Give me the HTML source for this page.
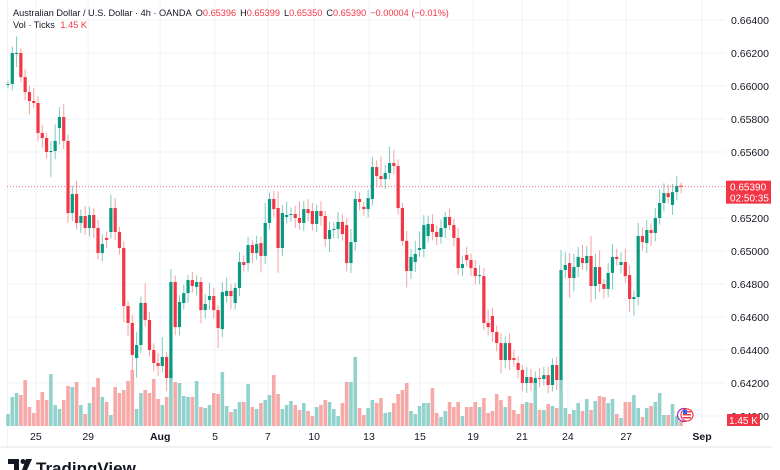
<!DOCTYPE html>
<html><head><meta charset="utf-8">
<style>
html,body{margin:0;padding:0;background:#fff;}
svg{display:block;font-family:"Liberation Sans",sans-serif;}
</style></head>
<body>
<svg id="chart" width="780" height="470" viewBox="0 0 780 470">
  <g id="grid"></g>
  <g id="vols"></g>
  <g id="candles"></g>
  <g id="axes"></g>
  <line x1="0" y1="447" x2="772" y2="447" stroke="#e0e3eb" stroke-width="1"/>
  <text x="13" y="16" font-size="9.2" fill="#131722">Australian Dollar / U.S. Dollar · 4h · OANDA <tspan dx="2">O</tspan><tspan fill="#f23645">0.65396</tspan><tspan dx="4">H</tspan><tspan fill="#f23645">0.65399</tspan><tspan dx="4">L</tspan><tspan fill="#f23645">0.65350</tspan><tspan dx="4">C</tspan><tspan fill="#f23645">0.65390</tspan><tspan dx="4" fill="#f23645">−0.00004 (−0.01%)</tspan></text>
  <text x="13" y="28" font-size="9.2" fill="#131722">Vol · Ticks <tspan dx="3" fill="#f23645">1.45 K</tspan></text>
  <g>
    <circle cx="684" cy="415" r="6.5" fill="#fff" stroke="#9c27b0" stroke-width="1.2"/>
    <circle cx="687" cy="415" r="6" fill="#fff" stroke="#f23645" stroke-width="1.2"/>
    <rect x="683" y="411" width="8" height="1.5" fill="#f23645"/>
    <rect x="683" y="414" width="8" height="1.5" fill="#f23645"/>
    <rect x="683" y="417" width="8" height="1.5" fill="#f23645"/>
    <rect x="683" y="410" width="4" height="4" fill="#2962ff"/>
  </g>
  <g>
    <path d="M8 459 h11 v11 h-5 v-6 h-6 z" fill="#131722"/>
    <circle cx="23" cy="461.5" r="2.5" fill="#131722"/>
    <path d="M26 459 h6 l-5 11 h-5 z" fill="#131722"/>
    <text x="36" y="474" font-size="17" font-weight="bold" fill="#131722">TradingView</text>
  </g>
</svg>
<script>
// ---- data ----
const opens = [0.66006,0.66012,0.66194,0.66200,0.66054,0.65963,0.65909,0.65897,0.65715,0.65685,
0.65600,0.65606,0.65745,0.65812,0.65667,0.65230,0.65345,0.65170,0.65212,0.65139,
0.65218,0.65139,0.64988,0.65079,0.65115,0.65261,0.65115,0.65018,0.64667,0.64564,
0.64351,0.64430,0.64685,0.64582,0.64400,0.64321,0.64303,0.64358,0.64230,0.64812,
0.64539,0.64685,0.64745,0.64824,0.64782,0.64812,0.64642,0.64703,0.64727,0.64642,
0.64527,0.64727,0.64758,0.64685,0.64776,0.64933,0.64927,0.65036,0.64988,0.65048,
0.64970,0.65170,0.65315,0.65261,0.65018,0.65206,0.65218,0.65224,0.65200,0.65170,
0.65254,0.65242,0.65164,0.65242,0.65212,0.65073,0.65127,0.65133,0.65176,0.65157,
0.64927,0.65054,0.65315,0.65267,0.65254,0.65315,0.65509,0.65454,0.65436,0.65473,
0.65533,0.65515,0.65261,0.65061,0.64879,0.64933,0.65006,0.65012,0.65091,0.65164,
0.65115,0.65085,0.65139,0.65206,0.65157,0.65079,0.64897,0.64976,0.64945,0.64897,
0.64848,0.64848,0.64564,0.64606,0.64509,0.64442,0.64339,0.64442,0.64351,0.64321,
0.64279,0.64200,0.64236,0.64200,0.64230,0.64224,0.64248,0.64188,0.64309,0.64218,
0.64885,0.64927,0.64836,0.64903,0.64958,0.64927,0.64970,0.64788,0.64903,0.64800,
0.64770,0.64867,0.64964,0.64915,0.64933,0.64854,0.64709,0.64721,0.65091,0.65048,
0.65127,0.65109,0.65200,0.65291,0.65351,0.65279,0.65357,0.65396];
const closes = [0.66012,0.66200,0.66200,0.66054,0.65963,0.65909,0.65897,0.65715,0.65685,0.65600,
0.65606,0.65667,0.65812,0.65667,0.65230,0.65345,0.65170,0.65212,0.65139,0.65218,
0.65139,0.64988,0.65042,0.65067,0.65261,0.65115,0.65018,0.64667,0.64564,0.64370,
0.64430,0.64685,0.64582,0.64400,0.64321,0.64303,0.64358,0.64230,0.64812,0.64539,
0.64691,0.64745,0.64824,0.64788,0.64812,0.64642,0.64679,0.64727,0.64642,0.64533,
0.64751,0.64758,0.64727,0.64776,0.64933,0.64915,0.65036,0.64988,0.65042,0.64970,
0.65170,0.65315,0.65254,0.65018,0.65230,0.65218,0.65224,0.65200,0.65170,0.65254,
0.65230,0.65164,0.65242,0.65212,0.65073,0.65127,0.65133,0.65176,0.65103,0.64927,
0.65054,0.65315,0.65297,0.65254,0.65321,0.65509,0.65454,0.65436,0.65473,0.65533,
0.65515,0.65261,0.65061,0.64879,0.64964,0.64982,0.65018,0.65157,0.65164,0.65115,
0.65085,0.65139,0.65206,0.65157,0.65079,0.64897,0.64921,0.64945,0.64897,0.64848,
0.64854,0.64564,0.64539,0.64509,0.64442,0.64339,0.64442,0.64339,0.64339,0.64279,
0.64200,0.64236,0.64200,0.64230,0.64224,0.64248,0.64188,0.64309,0.64218,0.64885,
0.64915,0.64836,0.64903,0.64964,0.64927,0.64970,0.64788,0.64903,0.64800,0.64770,
0.64867,0.64964,0.64951,0.64933,0.64848,0.64709,0.64721,0.65091,0.65054,0.65127,
0.65109,0.65200,0.65291,0.65351,0.65327,0.65357,0.65394,0.65390];
// wick lengths in pips (0.0001)
const upperWick = [2,4,10,3,5,4,8,4,5,3, 6,10,6,8,4,5,8,4,6,5, 4,5,6,4,8,6,3,4,3,5, 8,4,12,5,4,6,12,3,8,4,
4,5,3,5,4,3,6,8,5,3, 6,8,4,3,6,4,5,3,5,4, 12,4,5,10,5,8,4,5,10,5, 6,5,4,6,3,5,4,6,5,4,
8,5,4,3,5,6,4,12,5,10, 8,4,3,6,5,8,10,6,5,6, 4,5,3,5,4,6,5,5,4,5, 6,5,8,5,4,6,4,6,5,4,
3,6,5,4,6,5,5,4,5,12, 8,6,8,6,8,6,12,8,10,3, 6,8,5,6,8,6,4,8,5,6, 4,6,8,6,5,5,6,2];
const lowerWick = [2,4,8,3,5,8,3,5,6,4, 15,5,10,5,6,5,4,6,4,5, 6,4,5,5,4,5,4,10,8,10, 12,5,4,4,5,6,4,8,5,5,
5,4,6,4,5,8,5,6,5,12, 5,4,8,4,5,4,5,6,4,10, 5,4,5,15,5,4,4,6,4,5, 5,4,5,6,5,8,5,6,4,5,
6,5,5,4,5,4,6,5,6,4, 5,4,3,10,5,6,4,5,4,5, 5,4,6,3,5,4,5,4,5,5, 5,4,5,6,5,8,5,6,4,5,
5,6,5,4,5,4,5,4,6,6, 5,12,8,6,4,5,10,8,5,6, 5,10,4,5,4,8,10,5,5,6, 8,5,4,5,4,6,5,4];
// volume, in units of 50 ticks
const volume = [12,29,33,31,46,19,13,26,34,26, 52,21,17,26,40,39,44,21,12,23, 39,48,29,24,11,39,33,36,45,56,
17,33,36,33,47,27,21,29,56,44, 43,30,29,29,45,19,18,21,33,32, 54,20,14,17,24,24,42,19,17,23,
26,31,51,32,17,21,25,21,16,23, 15,10,19,21,26,24,17,10,23,44, 44,69,18,11,18,26,23,28,13,14,
23,32,36,43,15,12,20,23,23,38, 13,9,15,24,19,24,10,19,19,24, 19,28,13,15,32,26,19,30,16,12,
22,24,23,43,16,16,22,20,18,46, 18,12,16,23,15,27,16,25,30,29, 23,27,12,8,24,24,31,18,9,18,
20,24,33,11,11,22,10,5];
const priceTicks = [0.664,0.662,0.660,0.658,0.656,0.654,0.652,0.650,0.648,0.646,0.644,0.642,0.640];
const timeLabels = ["25","29","Aug","5","7","10","13","15","19","21","24","27","Sep"];
const timeLabelIdx = [6.5,18.7,35.5,48.3,60.6,71.4,84.2,96.1,108.5,119.9,130.6,144.2,161.9];
const lastPrice = 0.65390;

// ---- scales ----
const NS='http://www.w3.org/2000/svg';
const PLOT_L=7, PLOT_R=725, VOL_BASE=426;
function yScale(p){ return 20 + (0.664 - p) / 0.002 * 33; }
function xScale(i){ return 8 + i * 4.287; }
function vScale(v){ return v * 1; }
function mk(tag, attrs, parent){ const e=document.createElementNS(NS,tag); for(const k in attrs) e.setAttribute(k,attrs[k]); parent.appendChild(e); return e; }

const grid=document.getElementById('grid');
const axes=document.getElementById('axes');
const candles=document.getElementById('candles');
const vols=document.getElementById('vols');

priceTicks.forEach(function(p){
  const y=yScale(p);
  const gl=mk('line',{x1:PLOT_L,x2:PLOT_R,y1:y,y2:y,stroke:'#f0f3fa','stroke-width':1},grid);
  
  
  const t=mk('text',{x:731,y:y+4,'font-size':10.5,fill:'#131722'},axes);
  t.textContent=p.toFixed(5);
  
  
});
timeLabels.forEach(function(lab,k){
  const x=xScale(timeLabelIdx[k]);
  if(x<PLOT_R){
    const gl=mk('line',{x1:x,x2:x,y1:0,y2:VOL_BASE,stroke:'#f0f3fa','stroke-width':1},grid);
    
    
  }
  const bold=(lab==='Aug'||lab==='Sep');
  const t=mk('text',{x:x,y:440,'font-size':10.5,'text-anchor':'middle',fill:'#131722','font-weight':bold?'bold':'normal'},axes);
  t.textContent=lab;
  
  
});
mk('line',{x1:PLOT_L+0.5,x2:PLOT_L+0.5,y1:0,y2:447,stroke:'#f0f3fa'},grid);

volume.forEach(function(v,i){
  const up=closes[i]>=opens[i];
  const h=vScale(v), x=xScale(i);
  const r=mk('rect',{x:x-1.8,y:VOL_BASE-h,width:3.6,height:h,fill:up?'#92d2cc':'#f7a9a7'},vols);
  
  
});

opens.forEach(function(o,i){
  const c=closes[i];
  const up=c>=o;
  const hi=Math.max(o,c)+upperWick[i]/10000;
  const lo=Math.min(o,c)-lowerWick[i]/10000;
  const x=xScale(i);
  const col=up?'#089981':'#f23645';
  const g=mk('g',{},candles);
  
  
  mk('line',{x1:x,x2:x,y1:yScale(hi),y2:yScale(lo),stroke:up?'#7fcbbf':'#f7a1a0','stroke-width':1},g);
  const yt=yScale(Math.max(o,c)), yb=yScale(Math.min(o,c));
  mk('rect',{x:x-1.6,y:yt,width:3.2,height:Math.max(1,yb-yt),fill:col},g);
});

const ly=yScale(lastPrice);
const pl=mk('line',{x1:PLOT_L,x2:726,y1:ly,y2:ly,stroke:'#f23645','stroke-width':1,'stroke-dasharray':'1 2',opacity:0.7},axes);


const lg=mk('g',{},axes);


mk('rect',{x:726,y:ly-6,width:45,height:23,fill:'#f23645'},lg);
const t1=mk('text',{x:730,y:ly+4,'font-size':10,fill:'#fff'},lg); t1.textContent=lastPrice.toFixed(5);
const t2=mk('text',{x:730,y:ly+15,'font-size':10,fill:'#fff'},lg); t2.textContent='02:50:35';
const vg=mk('g',{},axes);


mk('rect',{x:727,y:414,width:33,height:12,fill:'#f23645'},vg);
const vt=mk('text',{x:743.5,y:424,'font-size':10,'text-anchor':'middle',fill:'#fff'},vg); vt.textContent='1.45 K';
</script>
</body></html>
